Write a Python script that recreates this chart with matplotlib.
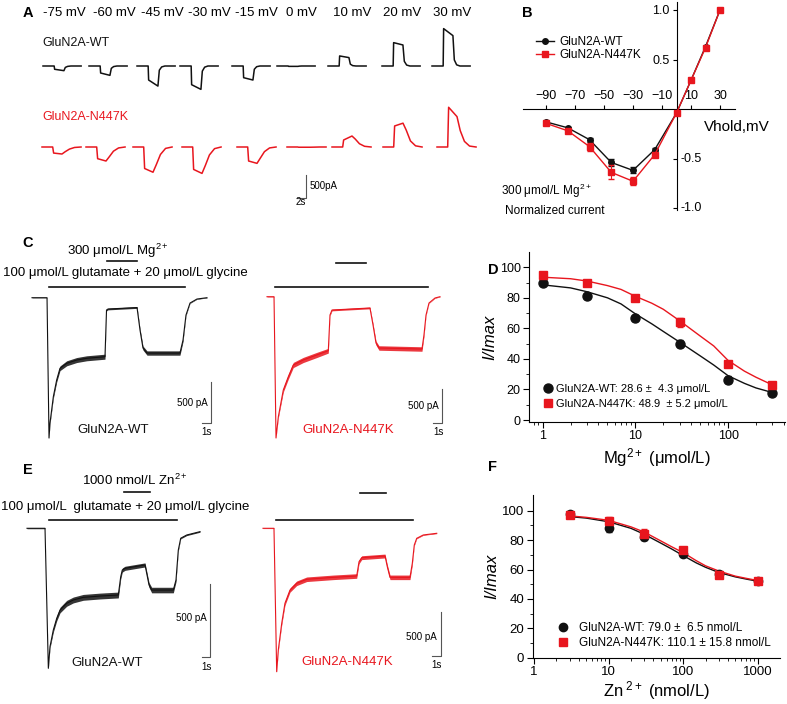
import numpy as np
import matplotlib
matplotlib.use('Agg')
import matplotlib.pyplot as plt
from matplotlib.lines import Line2D
from matplotlib.ticker import LogLocator, NullFormatter, FixedLocator

plt.rcParams['font.family'] = ['Liberation Sans', 'DejaVu Sans']
plt.rcParams['mathtext.fontset'] = 'custom'
plt.rcParams['mathtext.rm'] = 'Liberation Sans'
plt.rcParams['mathtext.it'] = 'Liberation Sans:italic'

BLACK = '#111111'
RED = '#e8161e'

# ---------------- data ----------------
# A: current sweeps (pA) at each holding potential, keypoints in time (s)
volt_labels = ['-75 mV', '-60 mV', '-45 mV', '-30 mV', '-15 mV', '0 mV', '10 mV', '20 mV', '30 mV']
wt_sweep_t = [0, 2.4, 2.5, 4.5, 4.8, 5.3, 6.0, 8.2]
wt_sweeps = [
    [0, 0, -70, -100, -30, -8, 0, 0],
    [0, 0, -150, -200, -50, -12, 0, 0],
    [0, 0, -300, -430, -90, -20, 0, 0],
    [0, 0, -400, -500, -110, -25, 0, 0],
    [0, 0, -250, -300, -70, -15, 0, 0],
    [0, 0, -8, -8, -3, 0, 0, 0],
    [0, 0, 215, 180, 40, 8, 0, 0],
    [0, 0, 500, 450, 100, 20, 0, 0],
    [0, 0, 800, 650, 130, 25, 0, 0],
]
mut_sweep_t = [0, 2.3, 2.5, 4.3, 5.0, 5.9, 7.0, 8.4]
mut_sweeps = [
    [0, 0, -130, -150, -100, -45, -10, 0],
    [0, 0, -250, -300, -210, -90, -20, 0],
    [0, 0, -460, -540, -380, -160, -30, 0],
    [0, 0, -480, -565, -400, -170, -35, 0],
    [0, 0, -300, -350, -240, -100, -20, 0],
    [0, 0, -5, -5, -5, -3, 0, 0],
    [0, 0, 150, 235, 170, 70, 15, 0],
    [0, 0, 450, 510, 360, 130, 25, 0],
    [0, 0, 850, 650, 350, 120, 20, 0],
]

# B: normalized I-V
iv_v = [-90, -75, -60, -45, -30, -15, 0, 10, 20, 30]
iv_wt = [-0.13, -0.19, -0.31, -0.54, -0.62, -0.41, -0.04, 0.29, 0.63, 1.0]
iv_wt_err = [0.01, 0.01, 0.02, 0.04, 0.03, 0.02, 0.01, 0.01, 0.01, 0.0]
iv_mut = [-0.145, -0.22, -0.38, -0.64, -0.73, -0.46, -0.04, 0.29, 0.62, 1.0]
iv_mut_err = [0.01, 0.015, 0.04, 0.07, 0.04, 0.02, 0.01, 0.01, 0.01, 0.0]

# C: Mg2+ block traces (t in s, I in pA, noise half width in pA)
c_wt_t = [0, 1.67, 1.89, 2.0, 2.37, 2.74, 3.11, 3.86, 4.97, 6.08, 8.11, 8.28, 8.44,
          11.67, 12.0, 12.33, 12.78, 16.44, 16.78, 17.11, 17.56, 18.33, 19.44]
c_wt_i = [0, 0, -1684, -1504, -1188, -988, -847, -787, -748, -727, -708, -148, -136,
          -118, -388, -604, -664, -664, -508, -208, -64, -16, 0]
c_wt_n = [2, 2, 5, 12, 20, 25, 28, 30, 30, 30, 30, 10, 10,
          10, 18, 24, 26, 26, 18, 8, 4, 3, 3]
c_mut_t = [0, 0.78, 1.0, 1.26, 1.81, 2.37, 2.92, 4.03, 5.52, 6.81, 7.0, 7.22,
           11.44, 11.78, 12.11, 12.44, 17.22, 17.44, 17.67, 18.0, 18.67, 19.22]
c_mut_i = [0, 0, -2077, -1764, -1372, -1176, -1004, -930, -857, -794, -269, -196,
           -166, -416, -681, -754, -769, -563, -269, -93, -19, 0]
c_mut_n = [3, 3, 5, 18, 30, 35, 38, 38, 38, 35, 12, 12,
           12, 22, 30, 33, 33, 22, 10, 5, 4, 4]
c_wt_glu = [1.9, 17.0]
c_wt_mg = [8.33, 11.67]
c_mut_glu = [0.89, 17.89]
c_mut_mg = [7.67, 11.0]

# D: Mg2+ inhibition
d_x = [1, 3, 10, 30, 100, 300]
d_wt = [90, 81, 66.5, 50, 26.5, 17.5]
d_wt_err = [1, 1, 2, 2.5, 2, 1]
d_mut = [95, 89.5, 80, 64, 37, 23]
d_mut_err = [1, 1, 1, 3, 1.5, 1]
d_fit_x = [1, 2, 3, 5, 7, 10, 15, 20, 30, 50, 70, 100, 150, 200, 300]
d_fit_wt = [88.5, 86.5, 84, 80, 76, 69.5, 63, 58, 51, 42, 36, 29, 24, 21, 18]
d_fit_mut = [93.5, 92.5, 91, 88, 85.5, 81, 76.5, 72.5, 65, 55, 48.5, 39, 32, 28, 23]

# E: Zn2+ block traces
e_wt_t = [0, 2.17, 2.57, 2.77, 3.17, 3.58, 3.98, 4.78, 5.58, 6.78, 8.80, 11.0, 11.29,
          11.48, 11.81, 14.22, 14.42, 14.70, 15.02, 17.63, 17.95, 18.23, 18.52, 19.24, 20.84]
e_wt_i = [0, 0, -959, -811, -697, -617, -560, -514, -491, -473, -464, -457, -332,
          -286, -274, -251, -308, -388, -423, -423, -354, -149, -68, -46, -23]
e_wt_n = [3, 3, 5, 10, 14, 17, 19, 20, 20, 20, 20, 20, 15,
          14, 14, 14, 15, 17, 19, 19, 13, 7, 4, 4, 4]
e_mut_t = [0, 1.22, 1.52, 1.70, 2.08, 2.44, 3.0, 3.74, 4.86, 7.81, 10.41, 10.67,
           10.97, 13.56, 13.81, 14.11, 16.33, 16.59, 16.81, 17.08, 17.81, 19.30]
e_mut_i = [0, 0, -1635, -1387, -1083, -855, -704, -627, -581, -559, -544, -381,
           -335, -316, -438, -559, -559, -399, -190, -114, -76, -57]
e_mut_n = [3, 3, 6, 13, 19, 22, 24, 26, 26, 26, 26, 22,
           22, 22, 24, 26, 26, 18, 9, 5, 4, 4]
e_wt_glu = [2.65, 18.07]
e_wt_zn = [11.69, 14.82]
e_mut_glu = [1.44, 16.67]
e_mut_zn = [10.78, 13.67]

# F: Zn2+ inhibition
f_x = [3, 10, 30, 100, 300, 1000]
f_wt = [98, 88, 82, 70.5, 57, 52]
f_wt_err = [1, 2.5, 2, 1.5, 1.5, 1.5]
f_mut = [97, 93, 84.5, 73, 56.5, 52]
f_mut_err = [1, 3, 3, 2, 2, 2]
f_fit_x = [3, 5, 10, 20, 30, 50, 70, 100, 150, 200, 300, 500, 700, 1000]
f_fit_wt = [96, 95, 92.5, 88, 84, 78, 74, 69.5, 64.5, 61.5, 58, 55, 53.5, 52]
f_fit_mut = [96.5, 95.5, 93.5, 89, 85.5, 79.5, 75.5, 71.5, 66, 62.5, 59, 55.5, 54, 52.5]

# ---------------- layout helpers (pixel coordinates) ----------------
W, H = 787, 704
fig = plt.figure(figsize=(W / 100, H / 100), dpi=100)


def px_axes(l, t, r, b):
    return fig.add_axes([l / W, 1 - b / H, (r - l) / W, (b - t) / H])


def ftext(x, y, s, **kw):
    kw.setdefault('ha', 'center')
    kw.setdefault('va', 'center')
    fig.text(x / W, 1 - y / H, s, **kw)


def trace_axes(box, t0_px, base_px, px_per_s, pa_per_px):
    l, t, r, b = box
    ax = px_axes(l, t, r, b)
    ax.set_xlim((l - t0_px) / px_per_s, (r - t0_px) / px_per_s)
    ax.set_ylim((base_px - b) * pa_per_px, (base_px - t) * pa_per_px)
    ax.axis('off')
    return ax


def draw_trace(ax, t, i, n, color):
    t, i, n = np.array(t), np.array(i), np.array(n)
    ax.fill_between(t, i - n, i + n, color=color, lw=0, alpha=0.85)
    ax.plot(t, i, color=color, lw=0.8)


def scale_bar(ax, x, y, dx, dy, color='#555555'):
    ax.plot([x - dx, x, x], [y, y, y + dy], color=color, lw=0.8, clip_on=False)


def app_bar(ax, times, yfrac):
    ax.plot(times, [yfrac, yfrac], color=BLACK, lw=1.2,
            transform=ax.get_xaxis_transform(), clip_on=False)


# ---------------- panel A ----------------
ftext(28, 13, 'A', fontsize=10.5, fontweight='bold')
for lab, cx in zip(volt_labels, [64, 114, 162, 209, 256, 301, 352, 402, 452]):
    ftext(cx, 13, lab, fontsize=9.5)
ftext(42, 43, 'GluN2A-WT', fontsize=9, ha='left', color=BLACK)
ftext(42, 117, 'GluN2A-N447K', fontsize=9, ha='left', color=RED)

ax_aw = trace_axes((35, 20, 480, 105), 35, 66, 4.65, 21.4)
ax_am = trace_axes((35, 105, 480, 215), 35, 147, 4.65, 21.4)
wt_start_px = [43, 89, 137, 180, 232, 277, 328, 382, 432]
mut_start_px = [42, 86, 133, 182, 237, 287, 332, 383, 437]
for sw, p in zip(wt_sweeps, wt_start_px):
    ax_aw.plot(np.array(wt_sweep_t) + (p - 35) / 4.65, sw, color=BLACK, lw=1.1)
for sw, p in zip(mut_sweeps, mut_start_px):
    ax_am.plot(np.array(mut_sweep_t) + (p - 35) / 4.65, sw, color=RED, lw=1.1)
scale_bar(ax_am, (306 - 35) / 4.65, -1098, 2, 500)
ftext(310, 186, '500pA', fontsize=7, ha='left')
ftext(301, 202, '2s', fontsize=7)

# ---------------- panel B ----------------
ftext(527, 13, 'B', fontsize=10.5, fontweight='bold')
axB = px_axes(523, 2, 735, 210)
axB.set_xlim((523 - 676.5) / 1.45, (735 - 676.5) / 1.45)
axB.set_ylim((109 - 210) / 99, (109 - 2) / 99)
axB.spines['bottom'].set_visible(False)
axB.spines['right'].set_visible(False)
axB.spines['top'].set_position(('data', 0))
axB.spines['left'].set_position(('data', 0))
axB.xaxis.set_ticks_position('top')
axB.set_xticks([-90, -70, -50, -30, -10, 10, 30])
axB.set_yticks([-1.0, -0.5, 0.5, 1.0])
axB.set_yticklabels(['', '', '0.5', '1.0'])
for yv in [-0.5, -1.0]:
    axB.text(3, yv, '%.1f' % yv, fontsize=9, ha='left', va='center')
axB.tick_params(labelsize=9, length=3, width=0.8, pad=2)
axB.errorbar(iv_v, iv_wt, yerr=iv_wt_err, color=BLACK, marker='o', ms=4,
             lw=1, capsize=2, elinewidth=0.8, label='GluN2A-WT', zorder=3)
axB.errorbar(iv_v, iv_mut, yerr=iv_mut_err, color=RED, marker='s', ms=4,
             lw=1, capsize=2, elinewidth=0.8, label='GluN2A-N447K', zorder=4)
hB = [Line2D([], [], color=BLACK, marker='o', ms=4, lw=1),
      Line2D([], [], color=RED, marker='s', ms=4, lw=1)]
axB.legend(hB, ['GluN2A-WT', 'GluN2A-N447K'], loc='upper left', frameon=False,
           fontsize=8.5, handlelength=1.5, handletextpad=0.5, labelspacing=0.1,
           borderpad=0, bbox_to_anchor=(530 / W, 1 - 30 / H), bbox_transform=fig.transFigure)
ftext(704, 127, 'Vhold,mV', fontsize=11, ha='left')
ftext(546, 191, '300 μmol/L Mg$^{2+}$', fontsize=8.5)
ftext(555, 211, 'Normalized current', fontsize=8.5)

# ---------------- panel C ----------------
ftext(28, 243, 'C', fontsize=10.5, fontweight='bold')
ftext(67, 251, '300 μmol/L Mg$^{2+}$', fontsize=9.5, ha='left')
ftext(125, 273, '100 μmol/L glutamate + 20 μmol/L glycine', fontsize=9.5)
axCw = trace_axes((30, 240, 215, 445), 32, 297.7, 9, 12)
draw_trace(axCw, c_wt_t, c_wt_i, c_wt_n, BLACK)
app_bar(axCw, c_wt_glu, (445 - 286.7) / 205)
app_bar(axCw, c_wt_mg, (445 - 261) / 205)
scale_bar(axCw, (210.7 - 32) / 9, -(423.3 - 297.7) * 12, 1, 500)
ftext(192, 403, '500 pA', fontsize=7)
ftext(207, 432, '1s', fontsize=7)
ftext(113, 430, 'GluN2A-WT', fontsize=9.5, color=BLACK)

axCm = trace_axes((262, 240, 450, 445), 267, 296.7, 9, 14.7)
draw_trace(axCm, c_mut_t, c_mut_i, c_mut_n, RED)
app_bar(axCm, c_mut_glu, (445 - 286.7) / 205)
app_bar(axCm, c_mut_mg, (445 - 263) / 205)
scale_bar(axCm, (441.7 - 267) / 9, -(423 - 296.7) * 14.7, 1, 500)
ftext(423, 406, '500 pA', fontsize=7)
ftext(438, 432, '1s', fontsize=7)
ftext(348, 430, 'GluN2A-N447K', fontsize=9.5, color=RED)

# ---------------- panel D ----------------
ftext(493, 270, 'D', fontsize=10.5, fontweight='bold')
axD = px_axes(529, 252, 785, 421.7)
axD.set_xscale('log')
axD.set_xlim(0.712, 411)
axD.set_ylim(-1.1, 110)
axD.plot(d_fit_x, d_fit_wt, color=BLACK, lw=1)
axD.plot(d_fit_x, d_fit_mut, color=RED, lw=1)
axD.errorbar(d_x, d_wt, yerr=d_wt_err, fmt='o', color=BLACK, ms=6.5, capsize=2, elinewidth=1)
axD.errorbar(d_x, d_mut, yerr=d_mut_err, fmt='s', color=RED, ms=6, capsize=2, elinewidth=1)
axD.set_yticks([0, 20, 40, 60, 80, 100])
axD.yaxis.set_minor_locator(FixedLocator([10, 30, 50, 70, 90]))
axD.set_xticks([1, 10, 100])
axD.set_xticklabels(['1', '10', '100'])
axD.xaxis.set_minor_locator(LogLocator(subs=np.arange(2, 10)))
axD.xaxis.set_minor_formatter(NullFormatter())
for s in ['top', 'right']:
    axD.spines[s].set_visible(False)
axD.tick_params(labelsize=9, length=4, width=0.8, pad=2)
axD.tick_params(which='minor', length=2, width=0.6)
axD.set_ylabel('I/Imax', fontsize=12, fontstyle='italic', labelpad=2)
axD.set_xlabel('Mg$^{2+}$ (μmol/L)', fontsize=12, labelpad=3)
hD = [Line2D([], [], color=BLACK, marker='o', ms=6.5, ls=''),
      Line2D([], [], color=RED, marker='s', ms=6, ls='')]
axD.legend(hD, ['GluN2A-WT: 28.6 ±  4.3 μmol/L', 'GluN2A-N447K: 48.9  ± 5.2 μmol/L'],
           loc='upper left', frameon=False, fontsize=8, handlelength=0.8,
           handletextpad=0.3, labelspacing=0.45, borderpad=0,
           bbox_to_anchor=(538 / W, 1 - 378 / H), bbox_transform=fig.transFigure)

# ---------------- panel E ----------------
ftext(28, 470, 'E', fontsize=10.5, fontweight='bold')
ftext(82, 480, '1000 nmol/L Zn$^{2+}$', fontsize=9.5, ha='left')
ftext(125, 507, '100 μmol/L  glutamate + 20 μmol/L glycine', fontsize=9.5)
axEw = trace_axes((25, 470, 215, 680), 27, 528.3, 8.3, 6.85)
draw_trace(axEw, e_wt_t, e_wt_i, e_wt_n, BLACK)
app_bar(axEw, e_wt_glu, (680 - 520) / 210)
app_bar(axEw, e_wt_zn, (680 - 491.7) / 210)
scale_bar(axEw, (210 - 27) / 8.3, -(656.7 - 528.3) * 6.85, 1, 500)
ftext(191, 618, '500 pA', fontsize=7)
ftext(206, 667, '1s', fontsize=7)
ftext(107, 663, 'GluN2A-WT', fontsize=9.5, color=BLACK)

axEm = trace_axes((260, 470, 450, 680), 263, 528.3, 9, 11.4)
draw_trace(axEm, e_mut_t, e_mut_i, e_mut_n, RED)
app_bar(axEm, e_mut_glu, (680 - 520) / 210)
app_bar(axEm, e_mut_zn, (680 - 493.3) / 210)
scale_bar(axEm, (440.7 - 263) / 9, -(655.7 - 528.3) * 11.4, 1, 500)
ftext(421, 637, '500 pA', fontsize=7)
ftext(436, 665, '1s', fontsize=7)
ftext(347, 662, 'GluN2A-N447K', fontsize=9.5, color=RED)

# ---------------- panel F ----------------
ftext(493, 467, 'F', fontsize=10.5, fontweight='bold')
axF = px_axes(532.7, 495, 780, 657.7)
axF.set_xscale('log')
axF.set_xlim(0.96, 1990)
axF.set_ylim(0, 110.7)
axF.plot(f_fit_x, f_fit_wt, color=BLACK, lw=1)
axF.plot(f_fit_x, f_fit_mut, color=RED, lw=1)
axF.errorbar(f_x, f_wt, yerr=f_wt_err, fmt='o', color=BLACK, ms=6, capsize=2, elinewidth=1)
axF.errorbar(f_x, f_mut, yerr=f_mut_err, fmt='s', color=RED, ms=6, capsize=2, elinewidth=1)
axF.set_yticks([0, 20, 40, 60, 80, 100])
axF.yaxis.set_minor_locator(FixedLocator([10, 30, 50, 70, 90]))
axF.set_xticks([1, 10, 100, 1000])
axF.set_xticklabels(['1', '10', '100', '1000'])
axF.xaxis.set_minor_locator(LogLocator(subs=np.arange(2, 10)))
axF.xaxis.set_minor_formatter(NullFormatter())
for s in ['top', 'right']:
    axF.spines[s].set_visible(False)
axF.tick_params(labelsize=9.5, length=4, width=0.8, pad=2)
axF.tick_params(which='minor', length=2, width=0.6)
axF.set_ylabel('I/Imax', fontsize=12, fontstyle='italic', labelpad=2)
axF.set_xlabel('Zn$^{\\ 2+}$ (nmol/L)', fontsize=12, labelpad=1)
hF = [Line2D([], [], color=BLACK, marker='o', ms=6, ls=''),
      Line2D([], [], color=RED, marker='s', ms=6, ls='')]
axF.legend(hF, ['GluN2A-WT: 79.0 ±  6.5 nmol/L', 'GluN2A-N447K: 110.1 ± 15.8 nmol/L'],
           loc='upper left', frameon=False, fontsize=8.5, handlelength=0.8,
           handletextpad=1.0, labelspacing=0.3, borderpad=0,
           bbox_to_anchor=(552 / W, 1 - 616 / H), bbox_transform=fig.transFigure)

fig.savefig('out.png', dpi=100)
